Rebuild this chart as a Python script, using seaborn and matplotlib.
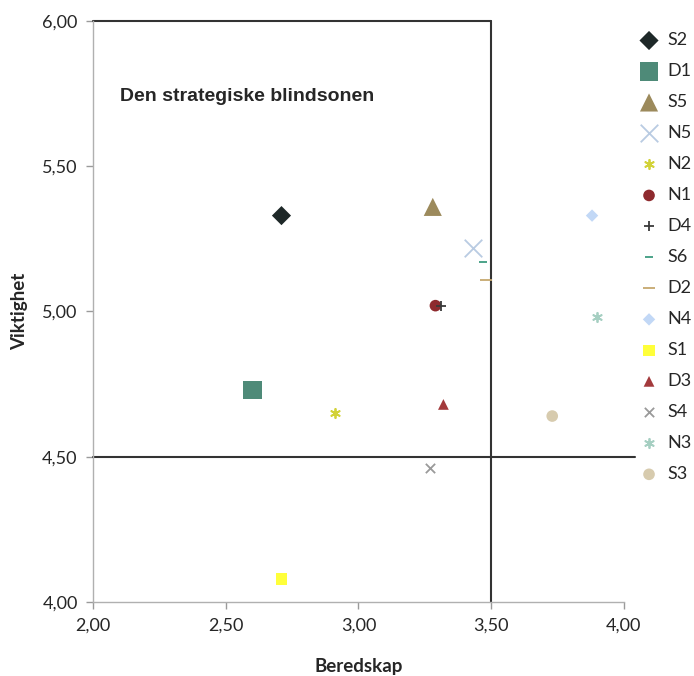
import matplotlib
matplotlib.use("Agg")
import matplotlib.pyplot as plt
import seaborn as sns
from matplotlib.ticker import FuncFormatter, MultipleLocator

# data
labels = ["S2", "D1", "S5", "N5", "N2", "N1", "D4", "S6", "D2", "N4", "S1", "D3", "S4", "N3", "S3"]
beredskap = [2.71, 2.60, 3.28, 3.43, 2.91, 3.29, 3.31, 3.47, 3.48, 3.88, 2.71, 3.32, 3.27, 3.90, 3.73]
viktighet = [5.33, 4.73, 5.36, 5.22, 4.65, 5.02, 5.02, 5.17, 5.11, 5.33, 4.08, 4.68, 4.46, 4.98, 4.64]

markers = ["D", "s", "^", "x", (6, 2, 0), "o", "+", "_", "_", "D", "s", "^", "x", (6, 2, 0), "o"]
colors = ["#1e2828", "#4e8a78", "#9c8a5c", "#b9cbe2", "#d2d238", "#8e2a2e", "#3a3a3a",
          "#3e9c80", "#c6a86e", "#c2d8f6", "#ffff3a", "#a33a3c", "#9a9a9a", "#a6cfc2", "#d7cbae"]
sizes = [95, 180, 170, 160, 45, 70, 50, 40, 70, 40, 70, 60, 45, 45, 70]

sns.set_style("white")
plt.rcParams["font.family"] = ["Lato", "DejaVu Sans"]

fig = plt.figure(figsize=(6.94, 6.76), dpi=100)
ax = fig.add_axes([0.134, 0.1095, 0.765, 0.8595])

for lab, x, y, m, c, s in zip(labels, beredskap, viktighet, markers, colors, sizes):
    lw = 1.3 if m in ("x", "+", "_") or isinstance(m, tuple) else 0
    sns.scatterplot(x=[x], y=[y], marker=m, color=c, s=s, linewidth=lw,
                    edgecolor=c if lw else "none", label=lab, ax=ax, zorder=3)

# blind zone box and quadrant lines
ax.plot([2.0, 3.5], [6.0, 6.0], color="#333333", lw=1.5, clip_on=False, zorder=2)
ax.plot([3.5, 3.5], [4.0, 6.0], color="#333333", lw=1.5, clip_on=False, zorder=2)
ax.plot([2.0, 4.04], [4.5, 4.5], color="#333333", lw=1.5, clip_on=False, zorder=2)

ax.text(2.10, 5.74, "Den strategiske blindsonen", fontsize=14, fontweight="bold",
        family="Liberation Sans", va="center", ha="left")

ax.set_xlim(2.0, 4.0)
ax.set_ylim(4.0, 6.0)
ax.xaxis.set_major_locator(MultipleLocator(0.5))
ax.yaxis.set_major_locator(MultipleLocator(0.5))
fmt = FuncFormatter(lambda v, p: f"{v:.2f}".replace(".", ","))
ax.xaxis.set_major_formatter(fmt)
ax.yaxis.set_major_formatter(fmt)
ax.tick_params(axis="both", which="major", direction="out", length=5, width=1,
               color="#9a9a9a", labelsize=13, pad=6, bottom=True, left=True)

for side in ["top", "right"]:
    ax.spines[side].set_visible(False)
for side in ["left", "bottom"]:
    ax.spines[side].set_color("#b0b0b0")
    ax.spines[side].set_linewidth(1)

ax.set_xlabel("Beredskap", fontsize=13.5, fontweight="bold", labelpad=18)
ax.set_ylabel("Viktighet", fontsize=13.5, fontweight="bold", labelpad=10)

leg = ax.legend(loc="upper left", bbox_to_anchor=(1.015, 0.993), frameon=False,
                fontsize=13, labelspacing=0.83, handletextpad=0.45, handlelength=1.1,
                borderaxespad=0)

fig.savefig("out.png", dpi=100)
